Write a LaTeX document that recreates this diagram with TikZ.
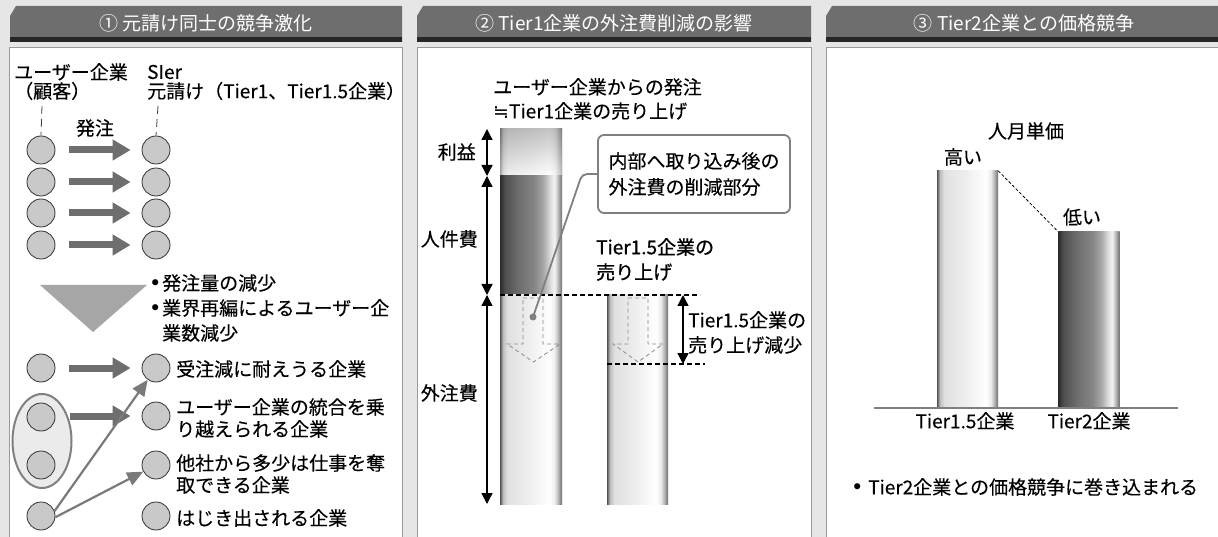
\documentclass[tikz,border=0pt]{standalone}
\usepackage{fontspec}
\setmainfont{Noto Sans CJK JP}[FakeBold=0.25]
\newfontfamily\symfont{DejaVu Sans}
\newfontfamily\semibold{Noto Sans CJK JP}[FakeBold=1.0]
\newfontfamily\hdrfont{Noto Sans CJK JP}
\usetikzlibrary{arrows.meta,shapes.geometric}
\definecolor{bg}{HTML}{E6E6E6}
\definecolor{hdr}{HTML}{6E6E6E}
\definecolor{hdrline}{HTML}{262626}
\definecolor{boxline}{HTML}{9A9A9A}
\definecolor{circfill}{HTML}{C9C9C9}
\definecolor{arrowgray}{HTML}{6E6E6E}
\definecolor{thingray}{HTML}{7A7A7A}
\definecolor{trigray}{HTML}{A6A6A6}
\definecolor{ellfill}{HTML}{EBEBEB}
\definecolor{ellline}{HTML}{808080}
\definecolor{dashgray}{HTML}{8C8C8C}
\pgfdeclarehorizontalshading{cyllight}{100bp}{rgb(0bp)=(0.32,0.32,0.32); rgb(25bp)=(0.32,0.32,0.32); rgb(26bp)=(0.5,0.5,0.5); rgb(27.5bp)=(0.75,0.75,0.75); rgb(31bp)=(0.88,0.88,0.88); rgb(50bp)=(0.94,0.94,0.94); rgb(65bp)=(1,1,1); rgb(69bp)=(0.93,0.93,0.93); rgb(71.5bp)=(0.75,0.75,0.75); rgb(73.5bp)=(0.57,0.57,0.57); rgb(75bp)=(0.42,0.42,0.42); rgb(100bp)=(0.42,0.42,0.42)}
\pgfdeclarehorizontalshading{cyldark}{100bp}{rgb(0bp)=(0.17,0.17,0.17); rgb(25bp)=(0.17,0.17,0.17); rgb(29bp)=(0.31,0.31,0.31); rgb(40bp)=(0.43,0.43,0.43); rgb(52.5bp)=(0.52,0.52,0.52); rgb(60bp)=(0.66,0.66,0.66); rgb(66bp)=(0.88,0.88,0.88); rgb(69bp)=(0.95,0.95,0.95); rgb(71.5bp)=(0.75,0.75,0.75); rgb(73.5bp)=(0.57,0.57,0.57); rgb(75bp)=(0.44,0.44,0.44); rgb(100bp)=(0.44,0.44,0.44)}
\tikzset{
  txt/.style={inner sep=0pt, anchor=west, align=left},
  ctxt/.style={inner sep=0pt},
  hdrtxt/.style={text=white, inner sep=0pt, font=\fontsize{19}{23}\hdrfont},
  circ/.style={circle, draw=black!80, line width=0.8pt, fill=circfill, minimum size=28pt, inner sep=0pt},
  bigarrow/.style={draw=arrowgray, line width=7pt, -{Triangle[length=18pt,width=20pt]}, shorten <=14pt, shorten >=11pt},
  thinarrow/.style={draw=thingray, line width=2.2pt, -{Triangle[length=16pt,width=14pt]}},
  dimarrow/.style={draw=black, line width=1.3pt, {Triangle[length=11pt,width=11pt]}-{Triangle[length=11pt,width=11pt]}},
  hollowarrow/.style={draw=dashgray, line width=0.8pt, dash pattern=on 4pt off 3pt},
  guide/.style={draw=black, line width=1.1pt, dash pattern=on 5pt off 3pt},
  vguide/.style={draw=black!75, line width=0.8pt, dash pattern=on 8pt off 5pt},
  callbox/.style={draw=ellline, line width=1.8pt, rounded corners=6pt, fill=white, minimum width=192pt, minimum height=78pt, align=left, inner sep=0pt},
  callline/.style={draw=ellline, line width=1.8pt, rounded corners=5pt},
  hdrshape/.style={fill=hdr},
  panel/.style={draw=boxline, fill=white, line width=1pt},
  barnode/.style={shade, inner sep=0pt, minimum width=61pt},
}
\newcommand\bul[1]{\makebox[#1][l]{{\symfont\fontsize{21}{21}\selectfont •}}}
\begin{document}
\begin{tikzpicture}[x=1pt,y=-1pt,font=\fontsize{19}{23}\selectfont]
\fill[bg] (0,0) rectangle (1218,537);
\useasboundingbox (0,0) rectangle (1218,537);
% headers
\foreach \xa/\xb in {10/402, 417/811, 826/1230}{
  \fill[hdrshape] (\xa,16) -- (\xa+6,6) -- (\xb,6) -- (\xb,42) -- (\xa,42) -- cycle;
  \fill[hdrline] (\xa,37.5) rectangle (\xb,42);
}
\draw[panel] (9,48) rectangle (402,560);
\draw[panel] (417,48) rectangle (811,560);
\draw[panel] (826,48) rectangle (1240,560);
\node[hdrtxt] (h1) at (206,23) {① 元請け同士の競争激化};
\node[hdrtxt] (h2) at (614,23) {② Tier1企業の外注費削減の影響};
\node[hdrtxt] (h3) at (1024,23) {③ Tier2企業との価格競争};

% ===== panel 1 =====
\node[txt] (user) at (14,72) {ユーザー企業};
\node[txt] (user2) at (14,91) {（顧客）};
\node[txt] (sier) at (147,72) {SIer};
\node[txt] (sier2) at (147,91) {元請け（Tier1、Tier1.5企業）};
\node[ctxt] (order) at (95,128) {発注};
\foreach \i/\y in {1/150,2/182,3/213,4/245}{
  \node[circ] (l\i) at (41,\y) {};
  \node[circ] (r\i) at (156,\y) {};
  \draw[bigarrow] (l\i) -- (r\i);
}
\coordinate (ud) at (42,106);
\coordinate (sd) at (158,106);
\draw[vguide] (ud) -- (l1.north);
\draw[vguide] (sd) -- (r1.north);
\fill[trigray] (40,285) -- (147,285) -- (93,332) -- cycle;
\node[txt] (b1) at (149,283) {\bul{13pt}発注量の減少};
\node[txt] (b2) at (149,308) {\bul{13pt}業界再編によるユーザー企};
\node[txt] (b3) at (162,333) {業数減少};
\node[ellipse, draw=ellline, line width=2pt, fill=ellfill, minimum width=59pt, minimum height=94pt, inner sep=0pt] (ell) at (42,441) {};
\node[circ] (l5) at (41,368) {};
\node[circ] (l6) at (41,417) {};
\node[circ] (l7) at (41,465) {};
\node[circ] (l8) at (41,516) {};
\node[circ] (r5) at (156,368) {};
\node[circ] (r6) at (156,416) {};
\node[circ] (r7) at (156,465) {};
\node[circ] (r8) at (156,516) {};
\draw[bigarrow] (l5) -- (r5);
\coordinate (ellout) at (70,416);
\draw[bigarrow, shorten <=0pt] (ellout) -- (r6);
\draw[thinarrow] (l8.20) -- (r5);
\draw[thinarrow] (l8.-5) -- (r7);
\node[txt] (t5) at (176,369) {受注減に耐えうる企業};
\node[txt] (t6a) at (176,407) {ユーザー企業の統合を乗};
\node[txt] (t6b) at (176,429) {り越えられる企業};
\node[txt] (t7a) at (176,463) {他社から多少は仕事を奪};
\node[txt] (t7b) at (176,485) {取できる企業};
\node[txt] (t8) at (176,518) {はじき出される企業};

% ===== panel 2 =====
\node[txt] (p2a) at (493,87) {ユーザー企業からの発注};
\node[txt] (p2b) at (493,111) {{\symfont ≒}Tier1企業の売り上げ};
\shade[shading=cyllight] (500,129) rectangle (562,176);
\shade[top color=black!45, bottom color=white, opacity=0.5] (500,129) rectangle (562,176);
\shade[shading=cyldark] (500,176) rectangle (562,295);
\shade[shading=cyllight] (500,295) rectangle (562,504);
\shade[shading=cyllight] (607,295) rectangle (668,504);
\coordinate (g1a) at (500,295);
\coordinate (g1b) at (700,295);
\coordinate (g2a) at (607,364);
\coordinate (g2b) at (705,364);
\draw[guide] (g1a) -- (g1b);
\draw[guide] (g2a) -- (g2b);
\coordinate (a0) at (487,129);
\coordinate (a1) at (487,176);
\coordinate (a2) at (487,295);
\coordinate (a3) at (487,504);
\draw[dimarrow] (a0) -- (a1);
\draw[dimarrow] (a1) -- (a2);
\draw[dimarrow] (a2) -- (a3);
\node[txt, anchor=east] (lb1) at (476,152) {利益};
\node[txt, anchor=east] (lb2) at (478,239) {人件費};
\node[txt, anchor=east] (lb3) at (478,393) {外注費};
\draw[hollowarrow] (523,298) -- (543,298) -- (543,344) -- (560,344) -- (533.5,362) -- (507,344) -- (523,344) -- cycle;
\draw[hollowarrow] (628,298) -- (648,298) -- (648,344) -- (663,344) -- (638,362) -- (613,344) -- (628,344) -- cycle;
\node[circle, fill=ellline, minimum size=7pt, inner sep=0pt] (dot) at (533,317) {};
\node[callbox] (call) at (694,174) {内部へ取り込み後の\\[3pt]外注費の削減部分};
\draw[callline] (call.west) -- ++(-15,0) -- (dot.center);
\node[txt, font=\fontsize{19}{23}\semibold] (t15a) at (596,247) {Tier1.5企業の};
\node[txt, font=\fontsize{19}{23}\semibold] (t15b) at (596,272) {売り上げ};
\coordinate (d0) at (683,295);
\coordinate (d1) at (683,364);
\draw[dimarrow] (d0) -- (d1);
\node[txt] (t15c) at (688,320) {Tier1.5企業の};
\node[txt] (t15d) at (688,345) {売り上げ減少};

% ===== panel 3 =====
\node[barnode, shading=cyllight, minimum height=237pt] (bar1) at (967.5,289.5) {};
\node[barnode, shading=cyldark, minimum height=176pt] (bar2) at (1089,320) {};
\draw[draw=black, line width=0.8pt, dash pattern=on 3pt off 2pt] (bar1.north east) -- (bar2.north west);
\draw[draw=ellline, line width=1.5pt] (874,408) -- (1178,408);
\node[ctxt] (ppl) at (1026,131) {人月単価};
\node[ctxt] (hi) at (963,157) {高い};
\node[ctxt] (lo) at (1082,217) {低い};
\node[ctxt] (x1) at (965,421) {Tier1.5企業};
\node[ctxt] (x2) at (1089,421) {Tier2企業};
\node[txt] (p3b) at (851,487) {\bul{17pt}Tier2企業との価格競争に巻き込まれる};
\end{tikzpicture}
\end{document}
